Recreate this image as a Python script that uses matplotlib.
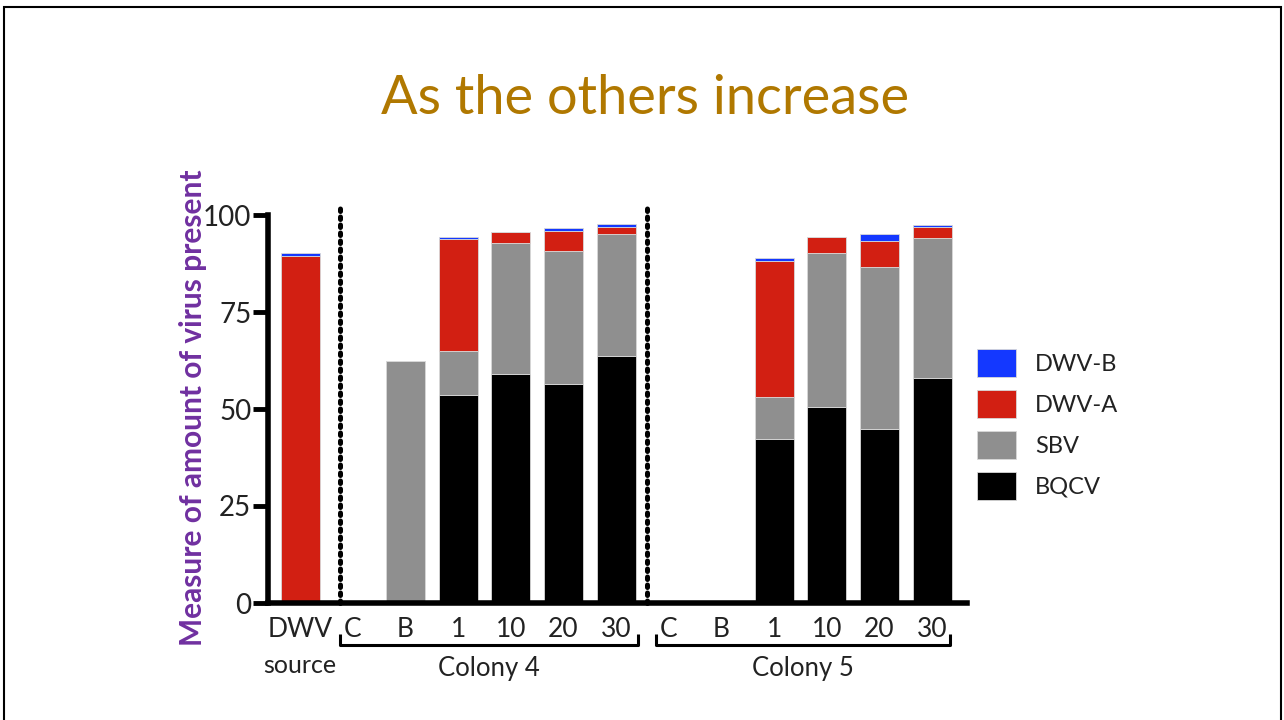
import matplotlib
matplotlib.use("Agg")
import matplotlib.pyplot as plt
from matplotlib.patches import Patch, Rectangle
import numpy as np

plt.rcParams['font.family'] = ['Lato', 'DejaVu Sans']

# ---- data ----
categories = ["DWV", "C", "B", "1", "10", "20", "30", "C", "B", "1", "10", "20", "30"]
bqcv = [0, 0, 0, 53.5, 59.1, 56.5, 63.6, 0, 0, 42.3, 50.5, 44.9, 58.1]
sbv = [0, 0, 62.3, 11.4, 33.8, 34.2, 31.4, 0, 0, 10.7, 39.6, 41.6, 35.9]
dwv_a = [89.4, 0, 0, 28.9, 2.7, 5.3, 2.0, 0, 0, 35.2, 4.2, 6.8, 3.0]
dwv_b = [0.7, 0, 0, 0.5, 0, 0.6, 0.6, 0, 0, 0.6, 0, 1.8, 0.4]
series_names = ["BQCV", "SBV", "DWV-A", "DWV-B"]
group_labels = ["source", "Colony 4", "Colony 5"]
yticks = [0, 25, 50, 75, 100]

colors = {"BQCV": "#000000", "SBV": "#8f8f8f", "DWV-A": "#d21f12", "DWV-B": "#1438ff"}

fig = plt.figure(figsize=(12.84, 7.20), dpi=100)
ax = fig.add_axes([268/1284, 1-603/720, (967-268)/1284, (603-215)/720])

x = np.arange(len(categories))
bottom = np.zeros(len(categories))
for name, vals in zip(series_names, [bqcv, sbv, dwv_a, dwv_b]):
    vals = np.array(vals, dtype=float)
    ax.bar(x, vals, bottom=bottom, width=0.74, color=colors[name],
           edgecolor="#d8d8d8", linewidth=0.6, zorder=2)
    bottom += vals

ax.set_xlim(-0.61, 12.66)
ax.set_ylim(0, 100)
ax.set_yticks(yticks)
ax.set_yticklabels([str(v) for v in yticks], fontsize=20, color="#222222")
ax.set_xticks(x)
ax.set_xticklabels(categories, fontsize=19, color="#222222")
ax.tick_params(axis='y', length=11, width=3.5, direction='out', pad=1)
ax.tick_params(axis='x', length=0, pad=10)

for s in ["top", "right"]:
    ax.spines[s].set_visible(False)
ax.spines["left"].set_linewidth(4)
ax.spines["bottom"].set_linewidth(4)
ax.spines["left"].set_capstyle("projecting")

# dotted separators
for xs in [0.76, 6.585]:
    ax.plot([xs, xs], [0, 102.5], linestyle=(0, (0.5, 1.1)), color="black",
            linewidth=3.6, dash_capstyle="round", clip_on=False, zorder=3)

# brackets
trans = ax.get_xaxis_transform()
for x0, x1 in [(0.76, 6.41), (6.76, 12.33)]:
    ax.plot([x0, x0, x1, x1], [-0.08, -0.108, -0.108, -0.08], color="black",
            linewidth=2.2, transform=trans, clip_on=False, solid_capstyle="butt")

ax.text(0, -0.16, group_labels[0], transform=trans, ha="center", va="center",
        fontsize=18, color="#222222")
ax.text((0.76 + 6.41) / 2, -0.168, group_labels[1], transform=trans, ha="center",
        va="center", fontsize=18.5, color="#222222")
ax.text((6.76 + 12.33) / 2, -0.168, group_labels[2], transform=trans, ha="center",
        va="center", fontsize=18.5, color="#222222")

# y label
fig.text(193/1284, 1-408/720, "Measure of amount of virus present", rotation=90,
         ha="center", va="center", fontsize=21.5, fontweight="bold", color="#7030a0")

# title
fig.text(645/1284, 1-99/720, "As the others increase", ha="center", va="center",
         fontsize=39, color="#b07800")

# legend
leg_order = ["DWV-B", "DWV-A", "SBV", "BQCV"]
leg_handles = [Patch(facecolor=colors[n], edgecolor="#d8d8d8", linewidth=0.6) for n in leg_order]
fig.legend(leg_handles, leg_order, loc="upper left",
           bbox_to_anchor=(968/1284, 1-340/720), frameon=False, fontsize=17,
           handlelength=1.65, handleheight=1.4, labelspacing=0.58,
           handletextpad=0.8, borderaxespad=0, labelcolor="#222222")

# slide border
fig.patches.append(Rectangle((4/1284, -0.05), 1277/1284, 1.05 - 7/720,
                             transform=fig.transFigure, fill=False,
                             edgecolor="black", linewidth=1.5))

fig.savefig("out.png", dpi=100)
